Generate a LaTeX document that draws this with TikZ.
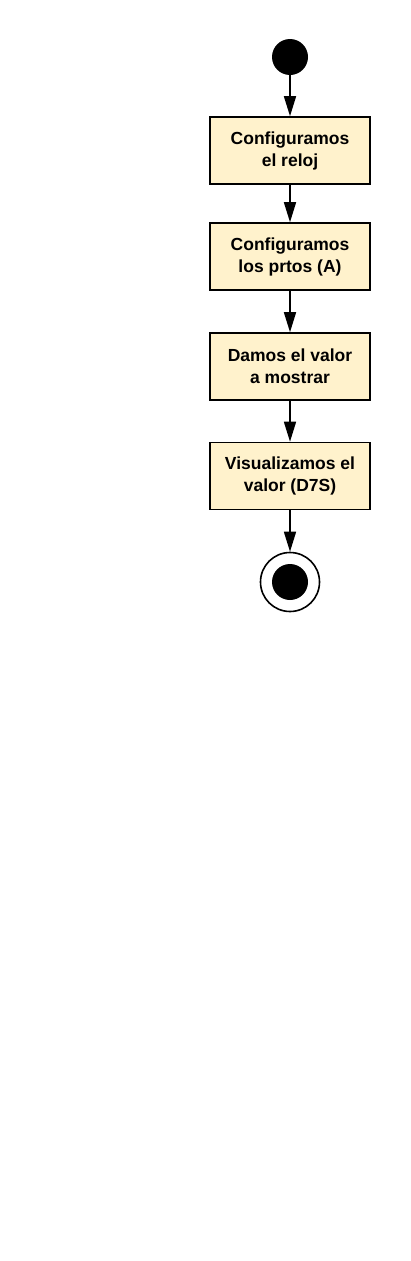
\documentclass[tikz,border=0pt]{standalone}
\usepackage{fontspec}
\setmainfont{Liberation Sans}
\usetikzlibrary{arrows.meta}
\definecolor{boxfill}{HTML}{FFF2CC}
\begin{document}
\begin{tikzpicture}[x=1pt,y=-1pt,
  actbox/.style={draw=black,line width=1.6pt,fill=boxfill,minimum width=160pt,minimum height=67pt,inner sep=0pt,align=center,font=\fontsize{17.5}{22}\selectfont\bfseries},
  flow/.style={-{Triangle[length=20pt,width=12pt]},line width=1.6pt}]
\useasboundingbox (0,0) rectangle (410,1261);
\fill[white] (0,0) rectangle (410,1261);
\node[circle,fill=black,minimum size=36pt,inner sep=0pt] (start) at (290,57) {};
\node[actbox] (b1) at (290,150.5) {Configuramos\\el reloj};
\node[actbox] (b2) at (290,256.5) {Configuramos\\los prtos (A)};
\node[actbox] (b3) at (290,366.5) {Damos el valor\\a mostrar};
\node[actbox] (b4) at (290,476) {Visualizamos el\\valor (D7S)};
\node[circle,draw=black,line width=1.6pt,fill=white,minimum size=59pt,inner sep=0pt] (end) at (290,582) {};
\node[circle,fill=black,minimum size=36pt,inner sep=0pt] (endin) at (290,582) {};
\draw[flow] (start) -- (b1);
\draw[flow] (b1) -- (b2);
\draw[flow] (b2) -- (b3);
\draw[flow] (b3) -- (b4);
\draw[flow] (b4) -- (end);
\end{tikzpicture}
\end{document}
